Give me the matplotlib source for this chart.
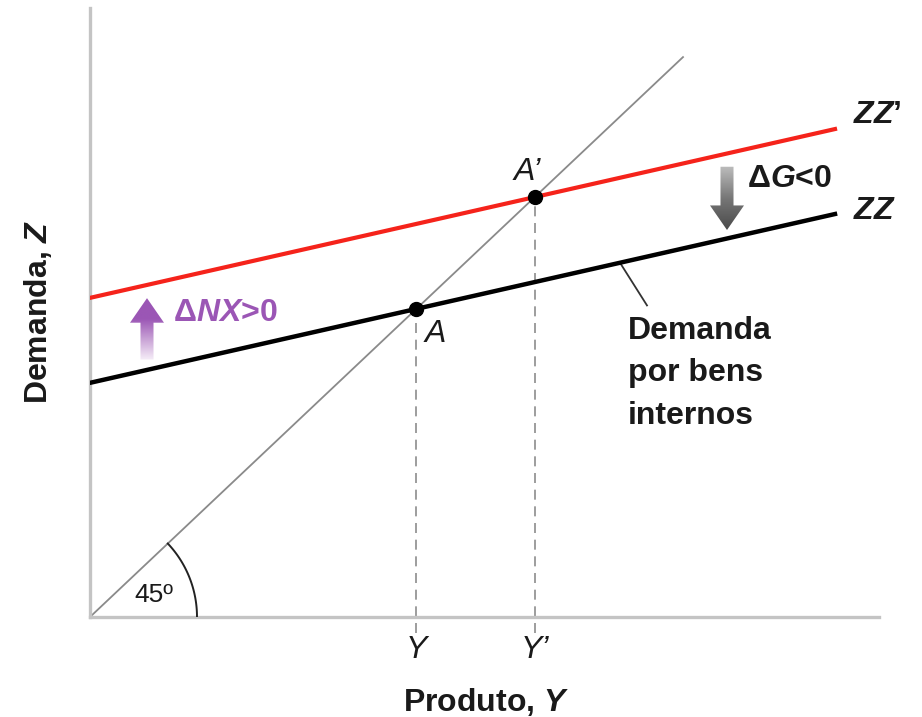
import numpy as np
import matplotlib
matplotlib.use("Agg")
import matplotlib.pyplot as plt
from matplotlib.patches import Polygon
from matplotlib.colors import LinearSegmentedColormap

# ---------------- data ----------------
zz_intercept = 2.48        # ZZ : autonomous demand
zz_new_intercept = 3.38    # ZZ': after ΔNX>0 and ΔG<0
zz_slope = 0.24            # slope of the demand lines
zz_x_end = 7.45            # where the demand lines stop
line45_x_end = 5.93        # where the 45° line stops
tick_labels = ["Y", "Y\u2019"]
point_labels = ["A", "A\u2019"]

Y_eq = zz_intercept / (1 - zz_slope)
Y_eq2 = zz_new_intercept / (1 - zz_slope)


def zz(x):
    return zz_intercept + zz_slope * x


def zz_new(x):
    return zz_new_intercept + zz_slope * x


# ---------------- style ----------------
plt.rcParams['font.family'] = ['Liberation Sans', 'DejaVu Sans']
plt.rcParams['mathtext.fontset'] = 'custom'
plt.rcParams['mathtext.rm'] = 'Liberation Sans:bold'
plt.rcParams['mathtext.bf'] = 'Liberation Sans:bold'
plt.rcParams['mathtext.it'] = 'Liberation Sans:bold:italic'

RED = '#f5231b'
PURPLE = '#9b56b5'
AXIS_GREY = '#c4c4c4'
TXT = '#1a1a1a'
FS = 23

fig = plt.figure(figsize=(9.22, 7.17), dpi=100)
ax = fig.add_axes([90 / 922, 100 / 717, 789 / 922, 609 / 717])
ax.set_xlim(0, 7.89)
ax.set_ylim(0, 6.45)
ax.set_autoscale_on(False)

for s in ['top', 'right']:
    ax.spines[s].set_visible(False)
for s in ['left', 'bottom']:
    ax.spines[s].set_color(AXIS_GREY)
    ax.spines[s].set_linewidth(2.4)

# lines
xs = np.array([0, zz_x_end])
ax.plot([0, line45_x_end], [0, line45_x_end], color='#8a8a8a', lw=1.3, zorder=2)
ax.plot(xs, zz(xs), color='black', lw=3.2, zorder=3)
ax.plot(xs, zz_new(xs), color=RED, lw=3.0, zorder=3)

# dashed guides
for yv in [Y_eq, Y_eq2]:
    ax.plot([yv, yv], [-0.17, yv], ls=(0, (6, 4)), color='#8c8c8c', lw=1.2,
            clip_on=False, zorder=1)

# equilibrium points
ax.plot([Y_eq, Y_eq2], [Y_eq, Y_eq2], 'o', color='black', ms=10, zorder=6)

# 45° arc (circular on screen)
p0 = ax.transData.transform((0, 0))
p1 = ax.transData.transform((1, 1))
sx, sy = p1 - p0
ang = np.arctan2(sy, sx)
t = np.linspace(0, ang, 60)
r_px = 107
ax.plot(r_px * np.cos(t) / sx, r_px * np.sin(t) / sy, color='#222222', lw=1.4, zorder=3)
ax.text(0.64, 0.235, "45º", fontsize=19, color=TXT, ha='center', va='center')


def gradient_arrow(x, y_tail, y_tip, colors, shaft_hw=0.065, head_hw=0.17, head_len=0.26):
    d = np.sign(y_tip - y_tail)
    yb = y_tip - d * head_len
    verts = [(x - shaft_hw, y_tail), (x + shaft_hw, y_tail), (x + shaft_hw, yb),
             (x + head_hw, yb), (x, y_tip), (x - head_hw, yb), (x - shaft_hw, yb)]
    poly = Polygon(verts, closed=True, facecolor='none', edgecolor='none')
    ax.add_patch(poly)
    cmap = LinearSegmentedColormap.from_list('g', colors)
    grad = np.linspace(0, 1, 256).reshape(-1, 1)
    if y_tail > y_tip:
        grad = grad[::-1]
    lo, hi = min(y_tail, y_tip), max(y_tail, y_tip)
    im = ax.imshow(grad, cmap=cmap, extent=[x - head_hw, x + head_hw, lo, hi],
                   origin='lower', aspect='auto', zorder=4)
    im.set_clip_path(poly)


# ΔNX>0 arrow (up, purple)
xa = 0.57
gradient_arrow(xa, zz(xa) + 0.11, zz_new(xa) - 0.14, ['#f6eef8', '#c9a3d6', PURPLE, PURPLE])
# ΔG<0 arrow (down, grey)
xg = 6.37
gradient_arrow(xg, zz_new(xg) - 0.14, zz(xg) + 0.09, ['#bdbdbd', '#777777', '#4a4a4a'])

# labels
ax.text(0.83, 3.22, "Δ$NX$>0", fontsize=FS, fontweight='bold', color=PURPLE,
        ha='left', va='center')
ax.text(6.57, 4.64, "Δ$G$<0", fontsize=FS, fontweight='bold', color=TXT,
        ha='left', va='center')
ax.text(7.63, zz_new(zz_x_end) + 0.15, "$ZZ$\u2019", fontsize=FS, color=TXT,
        ha='left', va='center', fontweight='bold')
ax.text(7.63, zz(zz_x_end) + 0.03, "$ZZ$", fontsize=FS, color=TXT,
        ha='left', va='center', fontweight='bold')

ax.text(Y_eq + 0.19, Y_eq - 0.27, point_labels[0], fontsize=FS, fontstyle='italic',
        color=TXT, ha='center', va='center')
ax.text(Y_eq2 - 0.07, Y_eq2 + 0.27, point_labels[1], fontsize=FS, fontstyle='italic',
        color=TXT, ha='center', va='center')

# leader line + description
xl = 5.30
ax.plot([xl, 5.57], [zz(xl), 3.30], color='#333333', lw=1.3, zorder=2)
ax.text(5.38, 3.19, "Demanda\npor bens\ninternos", fontsize=FS, fontweight='bold',
        color=TXT, ha='left', va='top', linespacing=1.55)

# axes ticks / labels
ax.set_yticks([])
ax.set_xticks([Y_eq, Y_eq2], labels=tick_labels)
ax.tick_params(axis='x', length=0, pad=13, labelsize=FS, labelcolor=TXT)
for lbl in ax.get_xticklabels():
    lbl.set_fontstyle('italic')

ax.set_xlabel("Produto, $Y$", fontsize=FS, fontweight='bold', color=TXT, va='center')
ax.xaxis.set_label_coords((486 - 90) / 789, (617 - 702) / 609)
ax.set_ylabel("Demanda, $Z$", fontsize=FS, fontweight='bold', color=TXT, va='center')
ax.yaxis.set_label_coords((38 - 90) / 789, (617 - 312) / 609)

fig.savefig("out.png", dpi=100)
